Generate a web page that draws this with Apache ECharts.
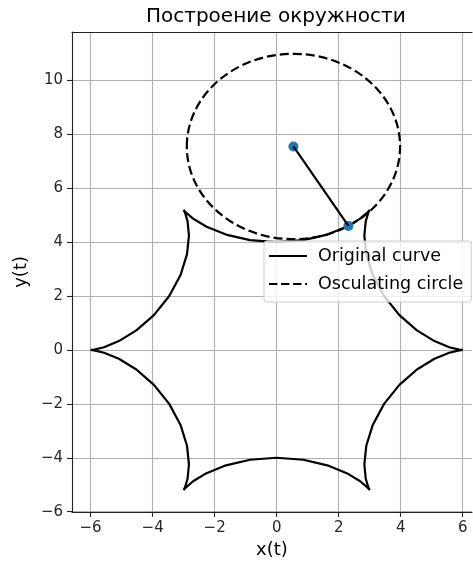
<!DOCTYPE html>
<html>
<head>
<meta charset="utf-8">
<script src="https://cdn.jsdelivr.net/npm/echarts@6/dist/echarts.min.js"></script>
<style>
  html, body { margin: 0; padding: 0; background: #fff; }
  #chart { width: 473px; height: 567px; }
</style>
</head>
<body>
<div id="chart"></div>
<script>
// Six-cusped hypocycloid, sampled every 5 degrees of the parameter t (closed loop)
const curveX = [
  6.0000, 5.8873, 5.5668, 5.0885, 4.5248, 3.9580, 3.4641, 3.0996, 2.8905, 2.8284, 2.8719, 2.9550,
  3.0000, 2.9322, 2.6949, 2.2600, 1.6343, 0.8584, 0.0000, -0.8584, -1.6343, -2.2600, -2.6949, -2.9322,
  -3.0000, -2.9550, -2.8719, -2.8284, -2.8905, -3.0996, -3.4641, -3.9580, -4.5248, -5.0885, -5.5668, -5.8873,
  -6.0000, -5.8873, -5.5668, -5.0885, -4.5248, -3.9580, -3.4641, -3.0996, -2.8905, -2.8284, -2.8719, -2.9550,
  -3.0000, -2.9322, -2.6949, -2.2600, -1.6343, -0.8584, 0.0000, 0.8584, 1.6343, 2.2600, 2.6949, 2.9322,
  3.0000, 2.9550, 2.8719, 2.8284, 2.8905, 3.0996, 3.4641, 3.9580, 4.5248, 5.0885, 5.5668, 5.8873,
  6.0000
];
const curveY = [
  0.0000, 0.0132, 0.1022, 0.3282, 0.7253, 1.2939, 2.0000, 2.7807, 3.5560, 4.2426, 4.7699, 5.0920,
  5.1962, 5.1052, 4.8721, 4.5709, 4.2813, 4.0747, 4.0000, 4.0747, 4.2813, 4.5709, 4.8721, 5.1052,
  5.1962, 5.0920, 4.7699, 4.2426, 3.5560, 2.7807, 2.0000, 1.2939, 0.7253, 0.3282, 0.1022, 0.0132,
  0.0000, -0.0132, -0.1022, -0.3282, -0.7253, -1.2939, -2.0000, -2.7807, -3.5560, -4.2426, -4.7699, -5.0920,
  -5.1962, -5.1052, -4.8721, -4.5709, -4.2813, -4.0747, -4.0000, -4.0747, -4.2813, -4.5709, -4.8721, -5.1052,
  -5.1962, -5.0920, -4.7699, -4.2426, -3.5560, -2.7807, -2.0000, -1.2939, -0.7253, -0.3282, -0.1022, -0.0132,
  0.0000
];

// Osculating circle at t = 1.3
const touchPoint = [2.3141, 4.6027];
const circleCenter = [0.5414, 7.5494];
const circleRadius = 3.4388;

// Axis ticks
const xTicks = [-6, -4, -2, 0, 2, 4, 6];
const yTicks = [-6, -4, -2, 0, 2, 4, 6, 8, 10];

const FONT = 'DejaVu Sans';
const fmt = v => (v < 0 ? '\u2212' + Math.abs(v) : String(v));

const curveData = curveX.map((x, i) => [x, curveY[i]]);

const X_MIN = -6.6, X_MAX = 6.3;

const axisCommon = {
  type: 'value',
  axisLine: { show: true, onZero: false, lineStyle: { color: '#222', width: 1.1 } },
  axisTick: { show: true, inside: false, length: 5, lineStyle: { color: '#222', width: 1.1 } },
  axisLabel: { color: '#262626', fontFamily: FONT, fontSize: 15, margin: 9, formatter: fmt },
  splitLine: { show: true, lineStyle: { color: '#b0b0b0', width: 1.1 } },
  nameLocation: 'middle',
  nameTextStyle: { color: '#000', fontFamily: FONT, fontSize: 18 }
};

const chart = echarts.init(document.getElementById('chart'), null, { renderer: 'canvas' });
chart.setOption({
  animation: false,
  backgroundColor: '#fff',
  title: {
    text: 'Построение окружности',
    left: 141,
    top: 2,
    textStyle: { color: '#000', fontFamily: FONT, fontSize: 20, fontWeight: 'normal' }
  },
  grid: { left: 72, top: 32, right: 1, height: 479.8 },
  xAxis: [
    Object.assign({}, axisCommon, {
      min: X_MIN, max: X_MAX,
      name: 'x(t)', nameGap: 30,
      axisTick: Object.assign({}, axisCommon.axisTick, { customValues: xTicks }),
      axisLabel: Object.assign({}, axisCommon.axisLabel, { customValues: xTicks })
    }),
    {
      // top spine
      type: 'value', position: 'top', min: X_MIN, max: X_MAX,
      axisLine: { show: true, onZero: false, lineStyle: { color: '#222', width: 1.1 } },
      axisTick: { show: false }, axisLabel: { show: false }, splitLine: { show: false }
    }
  ],
  yAxis: Object.assign({}, axisCommon, {
    min: -6.005, max: 11.797,
    name: 'y(t)', nameGap: 35,
    axisTick: Object.assign({}, axisCommon.axisTick, { customValues: yTicks }),
    axisLabel: Object.assign({}, axisCommon.axisLabel, { customValues: yTicks })
  }),
  legend: {
    orient: 'vertical',
    left: 264, top: 241,
    padding: [5, 8, 8, 5],
    itemGap: 8,
    itemWidth: 38, itemHeight: 2.5,
    selectedMode: false,
    backgroundColor: 'rgba(255,255,255,0.8)',
    borderColor: '#cccccc', borderWidth: 1, borderRadius: 3,
    textStyle: { color: '#000', fontFamily: FONT, fontSize: 17.5, lineHeight: 20, padding: [0, 0, 0, 6] },
    data: [
      { name: 'Original curve', icon: 'path://M0,0h38v2h-38z' },
      { name: 'Osculating circle',
        icon: 'path://M0,0h9v2h-9zM13,0h9v2h-9zM26,0h9v2h-9zM39,0h2v2h-2z' }
    ]
  },
  series: [
    {
      name: 'Original curve',
      type: 'line',
      data: curveData,
      symbol: 'none',
      smooth: false,
      color: '#000',
      lineStyle: { color: '#000', width: 2.2 },
      z: 2
    },
    {
      name: 'Osculating circle',
      type: 'custom',
      data: [[circleCenter[0], circleCenter[1], circleRadius]],
      encode: { x: 0, y: 1 },
      color: '#000',
      itemStyle: { color: '#000' },
      z: 3,
      renderItem: function (params, api) {
        const c = api.coord([api.value(0), api.value(1)]);
        const s = api.size([api.value(2), api.value(2)]);
        return {
          type: 'ellipse',
          shape: { cx: c[0], cy: c[1], rx: s[0], ry: s[1] },
          style: { fill: 'none', stroke: '#000', lineWidth: 2.2, lineDash: [9, 4] }
        };
      }
    },
    {
      name: 'points',
      type: 'scatter',
      data: [touchPoint, circleCenter],
      symbolSize: 10,
      itemStyle: { color: '#1f77b4', opacity: 1 },
      z: 4
    },
    {
      name: 'radius',
      type: 'line',
      data: [touchPoint, circleCenter],
      symbol: 'none',
      lineStyle: { color: '#000', width: 2.2 },
      z: 5
    }
  ]
});
</script>
</body>
</html>
